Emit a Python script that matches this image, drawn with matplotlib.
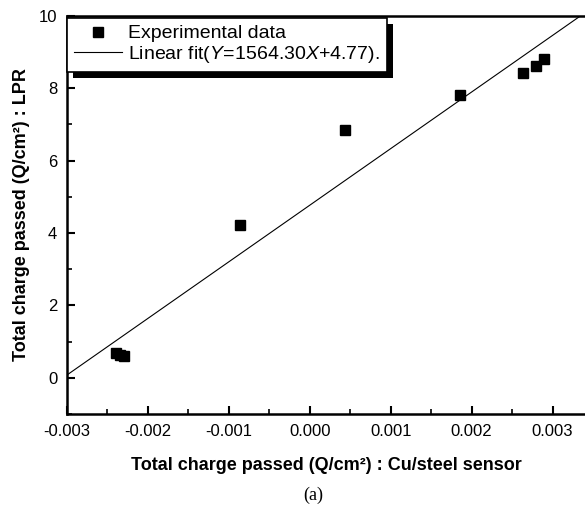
import matplotlib
matplotlib.use("Agg")
import matplotlib.pyplot as plt
import matplotlib.patches as mpatches
from matplotlib.transforms import IdentityTransform
from matplotlib.ticker import MultipleLocator, FormatStrFormatter
import numpy as np

plt.rcParams['font.family'] = ['Liberation Sans', 'DejaVu Sans']
plt.rcParams['mathtext.fontset'] = 'custom'
plt.rcParams['mathtext.it'] = 'Liberation Sans:italic'
plt.rcParams['mathtext.rm'] = 'Liberation Sans'

# measured charge: Cu/steel sensor vs LPR
sensor_q = [-0.00240, -0.00234, -0.00229, -0.00086, 0.00044, 0.00186, 0.00263, 0.00280, 0.00289]
lpr_q = [0.68, 0.64, 0.60, 4.22, 6.86, 7.82, 8.42, 8.62, 8.82]

slope = 1564.30
intercept = 4.77

x_lim = (-0.003, 0.0034)
y_lim = (-1, 10)

fig = plt.figure(figsize=(5.85, 5.14), dpi=100)
ax = fig.add_axes([0.1145, 0.1946, 0.8855, 0.7744])

ax.plot(sensor_q, lpr_q, 's', color='black', markersize=6.5, linestyle='none',
        label='Experimental data', zorder=3)
fit_x = np.array(x_lim)
ax.plot(fit_x, slope * fit_x + intercept, color='black', linewidth=0.8,
        label='Linear fit($\\mathit{Y\\!{=}\\!1564.30X{+}4.77}$).', zorder=2)

ax.set_xlim(*x_lim)
ax.set_ylim(*y_lim)
ax.xaxis.set_major_locator(MultipleLocator(0.001))
ax.xaxis.set_minor_locator(MultipleLocator(0.0005))
ax.xaxis.set_major_formatter(FormatStrFormatter('%.3f'))
ax.yaxis.set_major_locator(MultipleLocator(2))
ax.yaxis.set_minor_locator(MultipleLocator(1))

ax.tick_params(which='both', direction='in', top=False, right=False, labelsize=12)
ax.tick_params(which='major', length=6, width=1.5)
ax.tick_params(which='minor', length=3.5, width=1.2)
ax.tick_params(axis='x', pad=7)
ax.tick_params(axis='y', pad=7)

for side in ['left', 'bottom', 'top']:
    ax.spines[side].set_linewidth(1.8)
ax.spines['right'].set_visible(False)

ax.set_xlabel('Total charge passed (Q/cm²) : Cu/steel sensor',
              fontsize=13, fontweight='bold', labelpad=13)
ax.set_ylabel('Total charge passed (Q/cm²) : LPR',
              fontsize=13, fontweight='bold', labelpad=6)

leg = ax.legend(loc='upper left', bbox_to_anchor=(0, 0.995), borderaxespad=0,
                fontsize=14, frameon=True, fancybox=False, edgecolor='black',
                framealpha=1, borderpad=0.35, handlelength=2.5, handletextpad=0.3,
                labelspacing=0.1, markerscale=1.1)
leg.get_frame().set_linewidth(1.2)

fig.text(0.535, 1 - 495 / 514, '(a)', ha='center', va='center',
         fontsize=13, family='Liberation Serif')

# solid drop shadow behind the legend box
fig.canvas.draw()
bb = leg.get_window_extent()
shadow = mpatches.Rectangle((bb.x0 + 6, bb.y0 - 6), bb.width, bb.height,
                            transform=IdentityTransform(), facecolor='black',
                            edgecolor='none', zorder=4.9, clip_on=False)
ax.add_artist(shadow)

fig.savefig('out.png', dpi=100)
